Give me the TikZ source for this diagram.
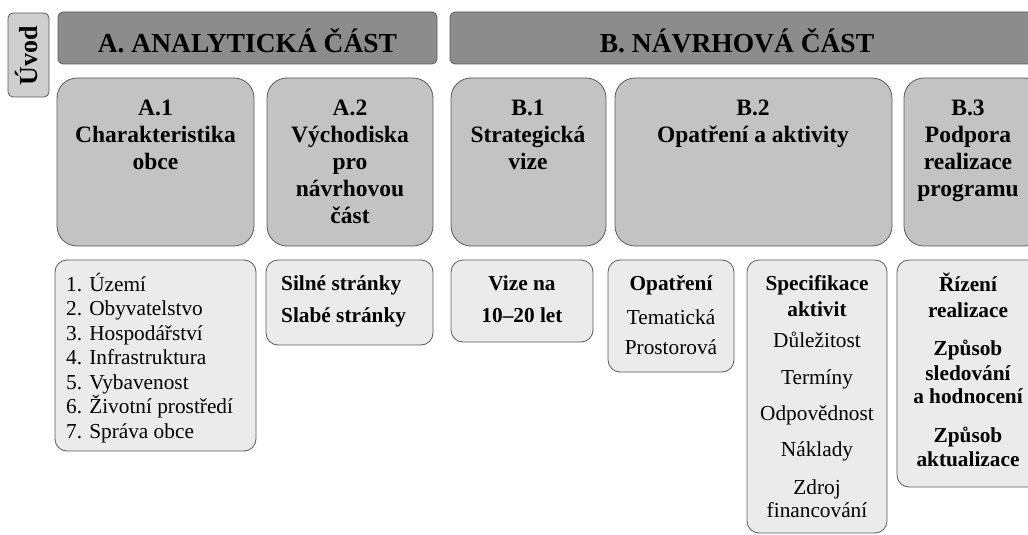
\documentclass[tikz,border=0pt]{standalone}
\usepackage{fontspec}
\setmainfont{Liberation Serif}
\definecolor{bordc}{HTML}{5A5A5A}
\definecolor{hdrc}{HTML}{8C8C8C}
\definecolor{midc}{HTML}{C3C3C3}
\definecolor{lowc}{HTML}{EBEBEB}
\definecolor{uvc}{HTML}{CFCFCF}
\begin{document}
\begin{tikzpicture}[x=1pt,y=-1pt,
  box/.style={draw=bordc, line width=0.8pt, inner sep=0pt, outer sep=0pt, anchor=north west},
  hdr/.style={box, fill=hdrc, rounded corners=5pt},
  mid/.style={box, fill=midc, rounded corners=20pt},
  low/.style={box, fill=lowc, rounded corners=12pt},
  uv/.style={box, fill=uvc, rounded corners=5pt},
  th/.style={font=\fontsize{27.5}{30}\selectfont\bfseries, anchor=base, inner sep=0pt},
  tm/.style={font=\fontsize{23.5}{27}\selectfont\bfseries, anchor=base, inner sep=0pt},
  tb/.style={font=\fontsize{21.3}{24}\selectfont\bfseries, anchor=base, inner sep=0pt},
  tr/.style={font=\fontsize{21.3}{24}\selectfont, anchor=base, inner sep=0pt},
  tl/.style={tr, anchor=base west},
  tlb/.style={tb, anchor=base west},
]
\useasboundingbox (0,0) rectangle (1028,535);
\clip (0,0) rectangle (1028,535);

% Uvod
\node[uv, minimum width=41pt, minimum height=84pt] (uvod) at (8,13) {};
\node[font=\fontsize{26}{28}\selectfont\bfseries, rotate=90, anchor=base, inner sep=0pt] (uvodt) at (37.5,56) {Úvod};

% headers
\node[hdr, minimum width=379pt, minimum height=52pt] (hA) at (58,12) {};
\node[hdr, minimum width=600pt, minimum height=52pt] (hB) at (450,12) {};
\node[th] (hAt) at (247.5,53) {A. ANALYTICKÁ ČÁST};
\node[th] (hBt) at (737,53) {B. NÁVRHOVÁ ČÁST};

% row 2
\node[mid, minimum width=197pt, minimum height=168pt] (A1) at (57,78) {};
\node[mid, minimum width=166pt, minimum height=168pt] (A2) at (267,78) {};
\node[mid, minimum width=155pt, minimum height=168pt] (B1) at (451,78) {};
\node[mid, minimum width=277pt, minimum height=168pt] (B2) at (615,78) {};
\node[mid, minimum width=140pt, minimum height=168pt] (B3) at (904,78) {};

\node[tm] (A1a) at (155.5,115) {A.1};
\node[tm] (A1b) at (155.5,142) {Charakteristika};
\node[tm] (A1c) at (155.5,169) {obce};

\node[tm] (A2a) at (350,115) {A.2};
\node[tm] (A2b) at (350,142) {Východiska};
\node[tm] (A2c) at (350,169) {pro};
\node[tm] (A2d) at (350,196) {návrhovou};
\node[tm] (A2e) at (350,223) {část};

\node[tm] (B1a) at (528,115) {B.1};
\node[tm] (B1b) at (528,142) {Strategická};
\node[tm] (B1c) at (528,169) {vize};

\node[tm] (B2a) at (753,115) {B.2};
\node[tm] (B2b) at (753,142) {Opatření a aktivity};

\node[tm] (B3a) at (968,115) {B.3};
\node[tm] (B3b) at (968,142) {Podpora};
\node[tm] (B3c) at (968,169) {realizace};
\node[tm] (B3d) at (968,196) {programu};

% row 3
\node[low, minimum width=201pt, minimum height=191pt] (L1) at (55,260) {};
\node[low, minimum width=167pt, minimum height=85pt] (L2) at (266,260) {};
\node[low, minimum width=142pt, minimum height=82pt] (L3) at (451,260) {};
\node[low, minimum width=126pt, minimum height=112pt] (L4) at (608,260) {};
\node[low, minimum width=140pt, minimum height=273pt] (L5) at (747,260) {};
\node[low, minimum width=145pt, minimum height=227pt] (L6) at (897,260) {};

\node[tl] (L1a) at (66,291) {1. Území};
\node[tl] (L1b) at (66,315.5) {2. Obyvatelstvo};
\node[tl] (L1c) at (66,340) {3. Hospodářství};
\node[tl] (L1d) at (66,364.5) {4. Infrastruktura};
\node[tl] (L1e) at (66,389) {5. Vybavenost};
\node[tl] (L1f) at (66,413.5) {6. Životní prostředí};
\node[tl] (L1g) at (66,438) {7. Správa obce};

\node[tlb] (L2a) at (281,290) {Silné stránky};
\node[tlb] (L2b) at (281,322) {Slabé stránky};

\node[tb] (L3a) at (522,290) {Vize na};
\node[tb] (L3b) at (522,322) {10–20 let};

\node[tb] (L4a) at (671,290) {Opatření};
\node[tr] (L4b) at (671,324) {Tematická};
\node[tr] (L4c) at (671,354) {Prostorová};

\node[tb] (L5a) at (817,290) {Specifikace};
\node[tb] (L5b) at (817,316) {aktivit};
\node[tr] (L5c) at (817,347) {Důležitost};
\node[tr] (L5d) at (817,384) {Termíny};
\node[tr] (L5e) at (817,420) {Odpovědnost};
\node[tr] (L5f) at (817,456) {Náklady};
\node[tr] (L5g) at (817,494) {Zdroj};
\node[tr] (L5h) at (817,517) {financování};

\node[tb] (L6a) at (968,291) {Řízení};
\node[tb] (L6b) at (968,317) {realizace};
\node[tb] (L6c) at (968,355) {Způsob};
\node[tb] (L6d) at (968,380) {sledování};
\node[tb] (L6e) at (968,403) {a hodnocení};
\node[tb] (L6f) at (968,442) {Způsob};
\node[tb] (L6g) at (968,466) {aktualizace};
\end{tikzpicture}
\end{document}
